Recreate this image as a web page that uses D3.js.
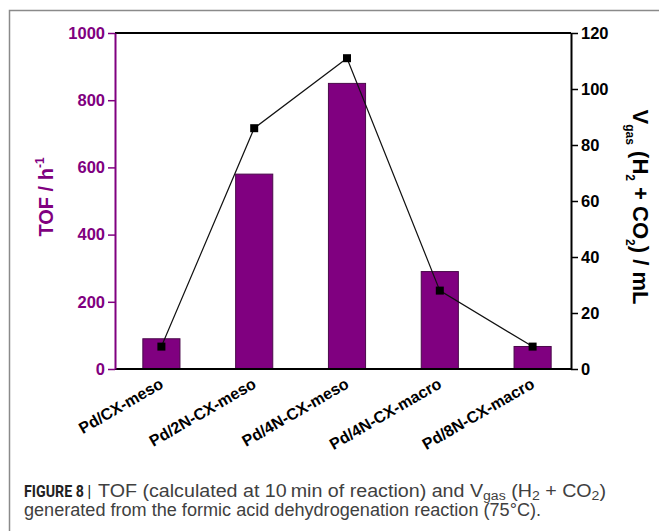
<!DOCTYPE html>
<html>
<head>
<meta charset="utf-8">
<script src="https://cdn.jsdelivr.net/npm/d3@7"></script>
<style>
  body { margin: 0; background: #fff; }
  svg { display: block; }
  .tick text { font-family: "Liberation Sans", Arial, sans-serif; font-weight: bold; }
</style>
</head>
<body>
<div id="chart"></div>
<script>
// catalysts and the two measured series
const catalysts = ["Pd/CX-meso", "Pd/2N-CX-meso", "Pd/4N-CX-meso", "Pd/4N-CX-macro", "Pd/8N-CX-macro"];
const tofValues = [90, 580, 850, 290, 67];      // TOF / h-1 (bars)
const gasValues = [8, 86, 111, 28, 8];           // Vgas / mL (line)
const tofTicks = [0, 200, 400, 600, 800, 1000];
const gasTicks = [0, 20, 40, 60, 80, 100, 120];

const width = 659, height = 531;
const plot = { left: 115, right: 571, top: 33, bottom: 369 };
const purple = "#800080";
const labelFont = "Liberation Sans, Arial, sans-serif";

const svg = d3.select("#chart").append("svg")
    .attr("width", width)
    .attr("height", height);

// figure frame (left and top rule)
svg.append("path")
    .attr("d", `M9.5,${height} V10.5 H${width}`)
    .attr("fill", "none")
    .attr("stroke", "#8a8a8a")
    .attr("stroke-width", 1.5);

// scales
const x = d3.scaleBand()
    .domain(catalysts)
    .range([plot.left, 579])
    .paddingInner(0.6)
    .paddingOuter(0.3);

const yTof = d3.scaleLinear().domain([0, 1000]).range([plot.bottom, plot.top]);
const yGas = d3.scaleLinear().domain([0, 120]).range([plot.bottom, plot.top]);

// bars
svg.append("g")
    .selectAll("rect")
    .data(catalysts)
    .join("rect")
    .attr("x", d => x(d))
    .attr("y", (d, i) => yTof(tofValues[i]))
    .attr("width", x.bandwidth())
    .attr("height", (d, i) => yTof(0) - yTof(tofValues[i]))
    .attr("fill", purple)
    .attr("stroke", "#4a0a4a")
    .attr("stroke-width", 1);

// gas volume line + square markers
const cx = d => x(d) + x.bandwidth() / 2;
const line = d3.line()
    .x((d, i) => cx(catalysts[i]))
    .y(d => yGas(d));

svg.append("path")
    .datum(gasValues)
    .attr("d", line)
    .attr("fill", "none")
    .attr("stroke", "#111")
    .attr("stroke-width", 1.2);

svg.append("g")
    .selectAll("rect")
    .data(gasValues)
    .join("rect")
    .attr("x", (d, i) => cx(catalysts[i]) - 4)
    .attr("y", d => yGas(d) - 4)
    .attr("width", 8)
    .attr("height", 8)
    .attr("fill", "#000");

// top and bottom frame lines
svg.append("line")
    .attr("x1", plot.left).attr("x2", plot.right)
    .attr("y1", plot.top).attr("y2", plot.top)
    .attr("stroke", "#000").attr("stroke-width", 2);
svg.append("line")
    .attr("x1", plot.left).attr("x2", plot.right)
    .attr("y1", plot.bottom).attr("y2", plot.bottom)
    .attr("stroke", "#000").attr("stroke-width", 2);

// left axis (TOF), purple
const leftAxis = svg.append("g")
    .attr("transform", `translate(${plot.left},0)`)
    .call(d3.axisLeft(yTof).tickValues(tofTicks).tickFormat(d3.format("d"))
        .tickSize(7).tickSizeOuter(0).tickPadding(3));
leftAxis.select(".domain").attr("stroke", purple).attr("stroke-width", 2);
leftAxis.selectAll(".tick line").attr("stroke", purple).attr("stroke-width", 1.5);
leftAxis.selectAll(".tick text").attr("fill", purple).style("font-size", "16.5px");

// right axis (Vgas), black
const rightAxis = svg.append("g")
    .attr("transform", `translate(${plot.right},0)`)
    .call(d3.axisRight(yGas).tickValues(gasTicks).tickSize(7).tickSizeOuter(0).tickPadding(3));
rightAxis.select(".domain").attr("stroke", "#000").attr("stroke-width", 2);
rightAxis.selectAll(".tick line").attr("stroke", "#000").attr("stroke-width", 1.5);
rightAxis.selectAll(".tick text").attr("fill", "#000").style("font-size", "16.5px");

// category labels, rotated
svg.append("g")
    .selectAll("text")
    .data(catalysts)
    .join("text")
    .attr("transform", d => `translate(${cx(d) + 3},${plot.bottom + 18}) rotate(-30)`)
    .attr("text-anchor", "end")
    .attr("font-family", labelFont)
    .attr("font-weight", "bold")
    .attr("font-size", 16)
    .attr("fill", "#000")
    .text(d => d);

// left axis title
const leftTitle = svg.append("text")
    .attr("transform", `translate(53,${(plot.top + plot.bottom) / 2 - 4}) rotate(-90)`)
    .attr("text-anchor", "middle")
    .attr("font-family", labelFont)
    .attr("font-weight", "bold")
    .attr("font-size", 20)
    .attr("fill", purple);
leftTitle.append("tspan").text("TOF / h");
leftTitle.append("tspan").attr("dy", -9).attr("font-size", 12).text("-1");

// right axis title
const rightTitle = svg.append("text")
    .attr("transform", `translate(633,${(plot.top + plot.bottom) / 2 + 6}) rotate(90)`)
    .attr("text-anchor", "middle")
    .attr("font-family", labelFont)
    .attr("font-weight", "bold")
    .attr("font-size", 22)
    .attr("fill", "#000");
rightTitle.append("tspan").text("V");
rightTitle.append("tspan").attr("dy", 7).attr("font-size", 12).text("gas");
rightTitle.append("tspan").attr("dy", -7).text(" (H");
rightTitle.append("tspan").attr("dy", 7).attr("font-size", 12).text("2");
rightTitle.append("tspan").attr("dy", -7).text(" + CO");
rightTitle.append("tspan").attr("dy", 7).attr("font-size", 12).text("2");
rightTitle.append("tspan").attr("dy", -7).text(") / mL");

// caption
const cap = svg.append("g")
    .attr("font-family", "Liberation Sans, Arial, sans-serif")
    .attr("fill", "#404040");
cap.append("text")
    .attr("x", 24).attr("y", 497)
    .attr("font-family", "'Liberation Sans Narrow', Roboto, sans-serif")
    .attr("font-weight", "bold")
    .attr("font-size", 16.5)
    .attr("fill", "#222")
    .attr("textLength", 67)
    .attr("lengthAdjust", "spacingAndGlyphs")
    .text("FIGURE 8 |");

const line1 = cap.append("text")
    .attr("x", 98).attr("y", 497)
    .attr("font-size", 17.5)
    .attr("textLength", 508)
    .attr("lengthAdjust", "spacingAndGlyphs");
line1.append("tspan").text("TOF (calculated at 10\u2009min of reaction) and V");
line1.append("tspan").attr("dy", 3).attr("font-size", 12.5).text("gas");
line1.append("tspan").attr("dy", -3).text(" (H");
line1.append("tspan").attr("dy", 3).attr("font-size", 12.5).text("2");
line1.append("tspan").attr("dy", -3).text(" + CO");
line1.append("tspan").attr("dy", 3).attr("font-size", 12.5).text("2");
line1.append("tspan").attr("dy", -3).text(")");

cap.append("text")
    .attr("x", 24).attr("y", 516)
    .attr("font-size", 17.5)
    .attr("textLength", 517)
    .attr("lengthAdjust", "spacingAndGlyphs")
    .text("generated from the formic acid dehydrogenation reaction (75\u00b0C).");
</script>
</body>
</html>
